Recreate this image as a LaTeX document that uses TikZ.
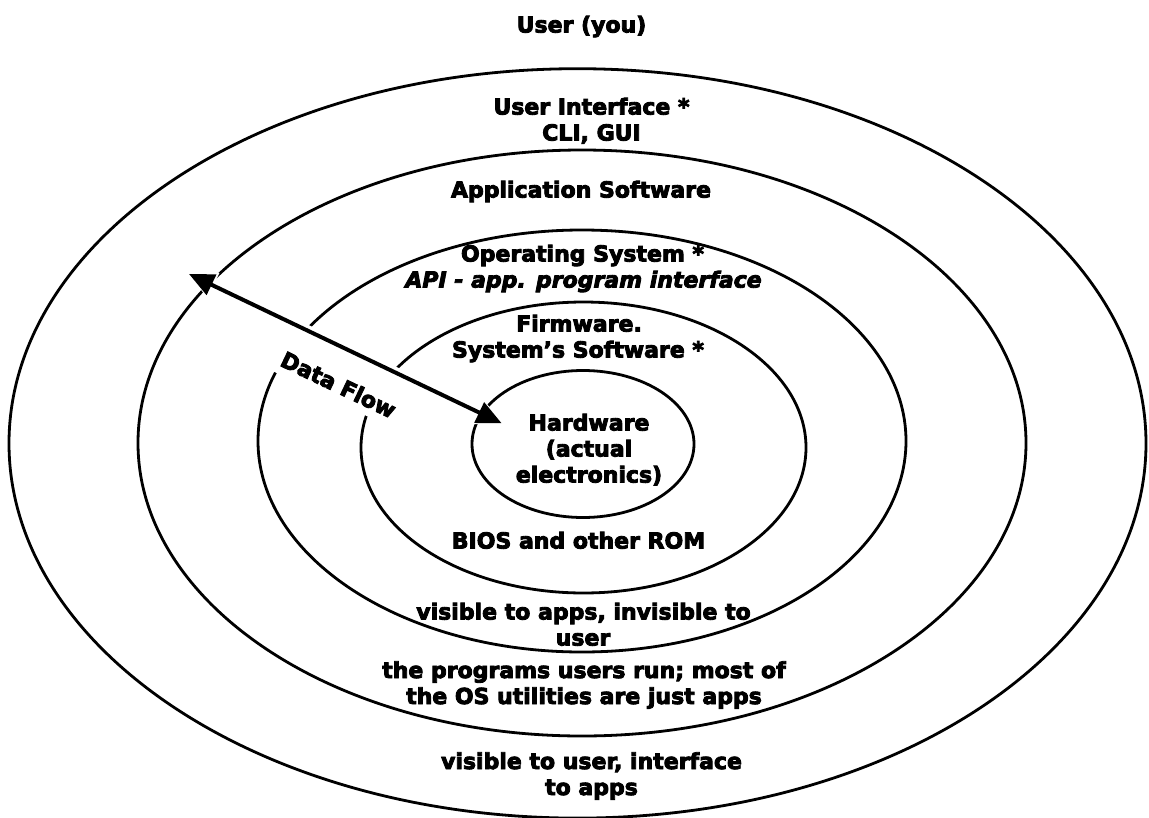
\documentclass[tikz,border=0pt]{standalone}
\usepackage{fontspec}
\setmainfont{DejaVu Sans}[BoldFeatures={FakeBold=4},BoldItalicFeatures={FakeBold=4}]
\usetikzlibrary{arrows.meta,shapes.geometric}
\begin{document}
\begin{tikzpicture}[x=1pt,y=-1pt,
  ring/.style={draw=black, line width=2.8pt, ellipse, inner sep=0pt, minimum width=#1},
  lbl/.style={anchor=base, inner sep=0pt, font=\fontsize{22}{26}\selectfont\bfseries},
  ilbl/.style={lbl, font=\fontsize{22}{26}\selectfont\bfseries\itshape},
  flow/.style={black, line width=4pt, >={Triangle[length=25pt,width=22pt]}, <->},
  flowhalo/.style={white, line width=11pt, >={Triangle[length=27pt,width=26pt]}, <->},
]
\useasboundingbox[fill=white] (0,0) rectangle (1149,817);

% rings
\node[ring=1137pt, minimum height=749.4pt] (e1) at (577.5,443.4) {};
\node[ring=888pt,  minimum height=586pt]   (e2) at (582,443) {};
\node[ring=648pt,  minimum height=422pt]   (e3) at (582,441) {};
\node[ring=445pt,  minimum height=291pt]   (e4) at (583.5,447.5) {};
\node[ring=222pt,  minimum height=147pt]   (e5) at (583,444) {};

% labels
\node[lbl] (user) at (581.5,32.5) {User (you)};
\node[lbl] (ui1) at (591.5,114.5) {User Interface *};
\node[lbl] (ui2) at (591.5,140.5) {CLI, GUI};
\node[lbl] (app) at (581,197.5) {Application Software};
\node[lbl] (os1) at (582.5,261.5) {Operating System *};
\node[ilbl] (os2) at (583.5,287.5) {API - app. program interface};
\node[lbl] (fw1) at (579,331.5) {Firmware.};
\node[lbl] (fw2) at (578,357.5) {System’s Software *};
\node[lbl] (hw1) at (589,430.5) {Hardware};
\node[lbl] (hw2) at (589,456.5) {(actual};
\node[lbl] (hw3) at (589,482.5) {electronics)};
\node[lbl] (bios) at (578.5,548.5) {BIOS and other ROM};
\node[lbl] (vis1) at (583.5,619.5) {visible to apps, invisible to};
\node[lbl] (vis2) at (583,645.5) {user};
\node[lbl] (prg1) at (584,678) {the programs users run; most of};
\node[lbl] (prg2) at (584,704) {the OS utilities are just apps};
\node[lbl] (usr1) at (591.5,769) {visible to user, interface};
\node[lbl] (usr2) at (591.5,795) {to apps};

% data flow
\node[lbl, fill=white, rotate=-25.5, inner xsep=4pt, inner ysep=8pt, text height=36pt, text depth=0pt]
  (df) at (335,392) {Data Flow};
\coordinate (dfA) at (189,274);
\coordinate (dfB) at (501.7,423.3);
\draw[flowhalo] (dfA) -- (dfB);
\draw[flow] (dfA) -- (dfB);
\end{tikzpicture}
\end{document}
